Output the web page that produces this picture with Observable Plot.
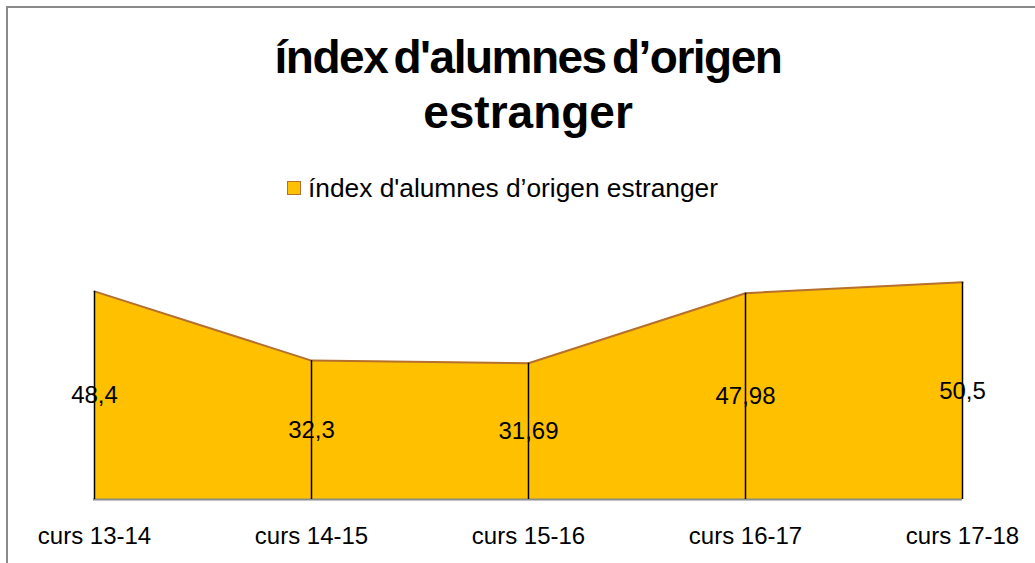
<!DOCTYPE html>
<html>
<head>
<meta charset="utf-8">
<script src="https://cdn.jsdelivr.net/npm/d3@7"></script>
<script src="https://cdn.jsdelivr.net/npm/@observablehq/plot@0.6"></script>
<style>
  html, body { margin: 0; padding: 0; background: #fff; }
  #wrap { position: relative; width: 1035px; height: 563px; overflow: hidden; font-family: Arial, "Liberation Sans", sans-serif; }
  #frame { position: absolute; left: 6px; top: 6px; width: 1100px; height: 600px; border-left: 2px solid #8a8a8a; border-top: 2px solid #8a8a8a; box-sizing: border-box; }
  #title { position: absolute; left: 0; width: 1056px; top: 30px; text-align: center; font-weight: bold; font-size: 46px; line-height: 55px; color: #000; }
  #title .l1 { letter-spacing: -1.5px; word-spacing: -5px; }
  #legend { position: absolute; left: 287px; top: 173px; height: 30px; display: flex; align-items: center; font-size: 26.3px; color: #000; white-space: nowrap; }
  #legend .sw { width: 12px; height: 12px; background: #FFC000; border: 1.5px solid #B5702F; margin-right: 7px; }
  #chart { position: absolute; left: 0; top: 200px; }
</style>
</head>
<body>
<div id="wrap">
  <div id="frame"></div>
  <div id="title"><span class="l1">índex d'alumnes d’origen</span><br>estranger</div>
  <div id="legend"><div class="sw"></div><span>índex d'alumnes d’origen estranger</span></div>
  <div id="chart"></div>
</div>
<script>
const courses = ["curs 13-14", "curs 14-15", "curs 15-16", "curs 16-17", "curs 17-18"];
const values = [48.4, 32.3, 31.69, 47.98, 50.5];
const valueLabels = ["48,4", "32,3", "31,69", "47,98", "50,5"];

const data = courses.map((c, i) => ({course: c, value: values[i], label: valueLabels[i]}));

const chart = Plot.plot({
  width: 1035,
  height: 363,
  marginLeft: 93,
  marginRight: 73,
  marginTop: 41,
  marginBottom: 64,
  style: {fontFamily: 'Arial, "Liberation Sans", sans-serif', background: "transparent", overflow: "visible"},
  x: {type: "point", domain: courses, padding: 0},
  y: {domain: [0, 60], axis: null},
  marks: [
    Plot.areaY(data, {x: "course", y: "value", fill: "#FFC000", curve: "linear"}),
    Plot.lineY(data, {x: "course", y: "value", stroke: "#B5702F", strokeWidth: 2}),
    Plot.ruleY([0], {stroke: "#8c8c8c", strokeWidth: 2}),
    Plot.ruleX(data, {x: "course", y1: 0, y2: "value", stroke: "#000", strokeWidth: 1.5}),
    Plot.text(data, {x: "course", y: d => d.value / 2, text: "label", fill: "#000", fontSize: 24}),
    Plot.axisX({tickSize: 0, tickPadding: 27, fontSize: 24, fill: "#000", label: null})
  ]
});
document.getElementById("chart").appendChild(chart);
</script>
</body>
</html>
